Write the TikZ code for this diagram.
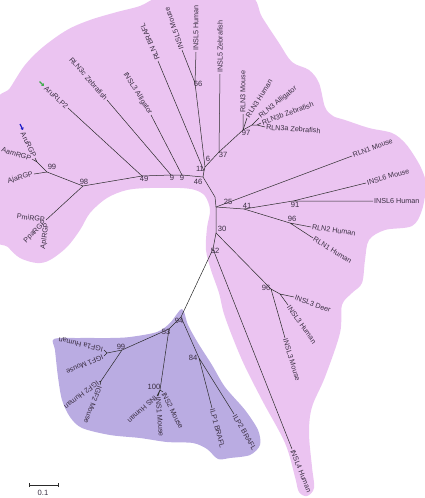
\documentclass[tikz,border=0pt]{standalone}
\usepackage{fontspec}
\setmainfont{Liberation Sans}
\usetikzlibrary{arrows.meta}
\definecolor{pinkc}{HTML}{EBC4F1}
\definecolor{purpc}{HTML}{BAACE2}
\definecolor{linec}{HTML}{2A2A2A}
\definecolor{txtc}{HTML}{3A2E42}
\definecolor{markg}{HTML}{3DAA4A}
\definecolor{markb}{HTML}{2020C8}
\newcommand\lblfnt{\fontsize{7.2}{8}\selectfont}
\newcommand\bsfnt{\fontsize{7.6}{8}\selectfont}
\begin{document}
\begin{tikzpicture}[x=1pt,y=-1pt,
  br/.style={draw=linec, line width=0.5pt},
  lfw/.style={font=\lblfnt, text=txtc, inner sep=1pt, anchor=west},
  lfe/.style={font=\lblfnt, text=txtc, inner sep=1pt, anchor=east},
  bsv/.style={font=\bsfnt, text=txtc, inner sep=0pt}]
\useasboundingbox (0,0) rectangle (424,498);
% background blobs
\fill[pinkc] plot[smooth cycle, tension=0.55] coordinates {
 (-5,110) (10,88) (25,65) (43,47) (67,30) (90,20) (117,12) (140,6) (160,-3) (200,-6) (250,-4)
 (262,17) (279,43) (292,62) (309,70) (319,83) (325,107) (333,116) (345,120) (369,128)
 (392,133) (405,143) (415,157) (422,170) (426,185) (422,210) (412,226) (385,230) (369,240)
 (365,260) (362,283) (352,293) (342,305) (340,333) (325,377) (312,407) (309,433) (312,467)
 (314,488) (307,496) (299,492) (295,477) (285,443) (262,400) (242,360) (225,317) (219,293)
 (211,270) (206,250) (207,228) (210,210) (205,196) (195,190) (180,188) (150,188) (127,190)
 (107,198) (90,213) (80,230) (67,247) (50,260) (37,263) (20,258) (8,247) (-5,230)};
\fill[purpc] plot[smooth cycle, tension=0.5] coordinates {
 (182,309) (188,325) (198,343) (212,365) (225,387) (245,410) (258,430) (260,445) (250,455)
 (230,458) (218,459) (207,449) (193,443) (167,442) (140,438) (110,435) (82,428) (70,417)
 (62,400) (58,377) (55,350) (54,339) (80,338) (110,338) (130,337) (157,332) (170,323)};
% internal nodes
\coordinate (n46) at (203,177);
\coordinate (n11) at (204,171);
\coordinate (n6) at (205,167);
\coordinate (n66) at (195,83);
\coordinate (n37) at (219,152);
\coordinate (n97) at (243,130);
\coordinate (nR) at (252,125);
\coordinate (nZ) at (257,125);
\coordinate (n9b) at (182,175);
\coordinate (n9a) at (171,175);
\coordinate (n49) at (142,176);
\coordinate (n98) at (83,186);
\coordinate (n99a) at (47,172);
\coordinate (nAA) at (37,162);
\coordinate (nV) at (215,197);
\coordinate (n25) at (216,207);
\coordinate (n41) at (244,209);
\coordinate (n91) at (293,201);
\coordinate (n96a) at (290,223);
\coordinate (n30) at (216,233);
\coordinate (n96b) at (271,289);
\coordinate (nD) at (280,294);
\coordinate (n52) at (213,249);
\coordinate (n94) at (181,317);
\coordinate (n53) at (169,329);
\coordinate (n99b) at (122,350);
\coordinate (nI1) at (107,353);
\coordinate (nI2) at (101,381);
\coordinate (n100) at (160,390);
\coordinate (n84) at (199,358);
% leaves
\node[lfe, rotate=-42] (aruRLP2) at (68,108) {AruRLP2};
\node[lfe, rotate=-64] (aruRGP) at (35,158) {AruRGP};
\node[lfe, rotate=-18] (aamRGP) at (32,159) {AamRGP};
\node[lfe, rotate=16] (ajaRGP) at (34,174) {AjaRGP};
\node[lfe, rotate=-8] (pmiRGP) at (46,220) {PmiRGP};
\node[lfe, rotate=45] (ppaRGP) at (46,221) {PpaRGP};
\node[lfe, rotate=82] (aplRGP) at (47,222) {AplRGP};
\node[lfe, rotate=-49] (rln3c) at (107,100) {RLN3c Zebrafish};
\node[lfe, rotate=-58] (insl3al) at (151,115) {INSL3 Alligator};
\node[lfw, rotate=113] (rlnbr) at (158,61) {RLN BRAFL};
\node[lfw, rotate=110] (insl5m) at (182,50) {INSL5 Mouse};
\node[lfw, rotate=90] (insl5h) at (196,52) {INSL5 Human};
\node[lfw, rotate=90] (insl5z) at (220,74) {INSL5 Zebrafish};
\node[lfw, rotate=90] (rln3m) at (243,114) {RLN3 Mouse};
\node[lfw, rotate=58] (rln3h) at (247,118) {RLN3 Human};
\node[lfw, rotate=39] (rln3al) at (259,118) {RLN3 Alligator};
\node[lfw, rotate=20] (rln3b) at (261,123) {RLN3b Zebrafish};
\node[lfw, rotate=-4] (rln3a) at (265,127) {RLN3a Zebrafish};
\node[lfw, rotate=21] (rln1m) at (352,156) {RLN1 Mouse};
\node[lfw, rotate=16] (insl6m) at (366,183) {INSL6 Mouse};
\node[lfw, rotate=0] (insl6h) at (373,201) {INSL6 Human};
\node[lfw, rotate=-8] (rln2h) at (311,227) {RLN2 Human};
\node[lfw, rotate=-32] (rln1h) at (313,238) {RLN1 Human};
\node[lfw, rotate=-20] (insl3d) at (294,297) {INSL3 Deer};
\node[lfw, rotate=-55] (insl3h) at (288,305) {INSL3 Human};
\node[lfw, rotate=-73] (insl3m) at (285,338) {INSL3 Mouse};
\node[lfw, rotate=-68] (insl4h) at (292,449) {INSL4 Human};
\node[lfw, rotate=-60] (ilp2) at (234,414) {ILP2 BRAFL};
\node[lfw, rotate=-75] (ilp1) at (212,408) {ILP1 BRAFL};
\node[lfw, rotate=-63] (ins2m) at (163,392) {INS2 Mouse};
\node[lfw, rotate=-85] (ins1m) at (158,396) {INS1 Mouse};
\node[lfw, rotate=223] (insh) at (157,396) {INS Human};
\node[lfw, rotate=167] (igf1a) at (104,350) {IGF1a Human};
\node[lfw, rotate=204] (igf1m) at (104,356) {IGF1 Mouse};
\node[lfw, rotate=217] (igf2h) at (99,382) {IGF2 Human};
\node[lfw, rotate=250] (igf2m) at (100,385) {IGF2 Mouse};
% markers
\draw[markg, line width=1.3pt, -{Triangle[length=2.2pt,width=3.4pt]}] (39.5,81.5) -- (44,86);
\draw[markb, line width=1.3pt, -{Triangle[length=2.2pt,width=3.4pt]}] (20,124) -- (23,130);
% branches
\draw[br] (aruRLP2.east) -- (n49);
\draw[br] (aruRGP.east) -- (nAA) (aamRGP.east) -- (nAA) (nAA) -- (n99a);
\draw[br] (ajaRGP.east) -- (n99a) -- (n98);
\draw[br] (pmiRGP.east) -- (n98);
\draw[br] (n98) -- (n49) -- (n9a) -- (n9b) -- (n46);
\draw[br] (rln3c.east) -- (n9a);
\draw[br] (insl3al.east) -- (n9b);
\draw[br] (rlnbr.west) -- (n11);
\draw[br] (n46) -- (n11) -- (n6);
\draw[br] (insl5m.west) -- (n66) (insl5h.west) -- (n66) (n66) -- (n6);
\draw[br] (n6) -- (n37) -- (insl5z.west);
\draw[br] (n37) -- (n97) -- (rln3m.west);
\draw[br] (n97) -- (rln3h.west) (n97) -- (nR) -- (rln3al.west) (nR) -- (nZ) -- (rln3b.west) (nZ) -- (rln3a.west);
\draw[br] (n46) -- (nV) -- (n25) -- (n30) -- (n52);
\draw[br] (n25) -- (rln1m.west);
\draw[br] (n25) -- (n41) -- (n91) -- (insl6m.west) (n91) -- (insl6h.west);
\draw[br] (n41) -- (n96a) -- (rln2h.west) (n96a) -- (rln1h.west);
\draw[br] (n30) -- (n96b) -- (insl3m.west) (n96b) -- (nD) -- (insl3d.west) (nD) -- (insl3h.west);
\draw[br] (n52) -- (insl4h.west);
\draw[br] (n52) -- (n94) -- (n53) -- (n99b) -- (nI1) -- (igf1a.west) (nI1) -- (igf1m.west);
\draw[br] (n99b) -- (nI2) -- (igf2h.west) (nI2) -- (igf2m.west);
\draw[br] (n53) -- (n100) -- (ins2m.west) (n100) -- (ins1m.west) (n100) -- (insh.west);
\draw[br] (n94) -- (n84) -- (ilp1.west) (n84) -- (ilp2.west);
% bootstrap values
\node[bsv] (b99a) at (52,167) {99};
\node[bsv] (b98) at (84,182) {98};
\node[bsv] (b49) at (144,179) {49};
\node[bsv] (b9a) at (172,178) {9};
\node[bsv] (b9b) at (182,178) {9};
\node[bsv] (b46) at (198,182) {46};
\node[bsv] (b11) at (200,169) {11};
\node[bsv] (b6) at (208,159) {6};
\node[bsv] (b66) at (198,84) {66};
\node[bsv] (b37) at (223,155) {37};
\node[bsv] (b97) at (246,133) {97};
\node[bsv] (b25) at (228,202) {25};
\node[bsv] (b41) at (247,206) {41};
\node[bsv] (b91) at (295,205) {91};
\node[bsv] (b96a) at (292,219) {96};
\node[bsv] (b30) at (222,229) {30};
\node[bsv] (b52) at (215,251) {52};
\node[bsv] (b96b) at (266,288) {96};
\node[bsv] (b94) at (179,321) {94};
\node[bsv] (b53) at (166,332) {53};
\node[bsv] (b99b) at (121,347) {99};
\node[bsv] (b84) at (193,358) {84};
\node[bsv] (b100) at (154,387) {100};
% scale bar
\coordinate (sb1) at (29,485);
\coordinate (sb2) at (58,485);
\draw[br] (sb1) -- (sb2);
\draw[br] ([yshift=-2pt]sb1) -- ([yshift=2pt]sb1);
\draw[br] ([yshift=-2pt]sb2) -- ([yshift=2pt]sb2);
\node[bsv] (sbl) at (43,493) {0.1};
\end{tikzpicture}
\end{document}
